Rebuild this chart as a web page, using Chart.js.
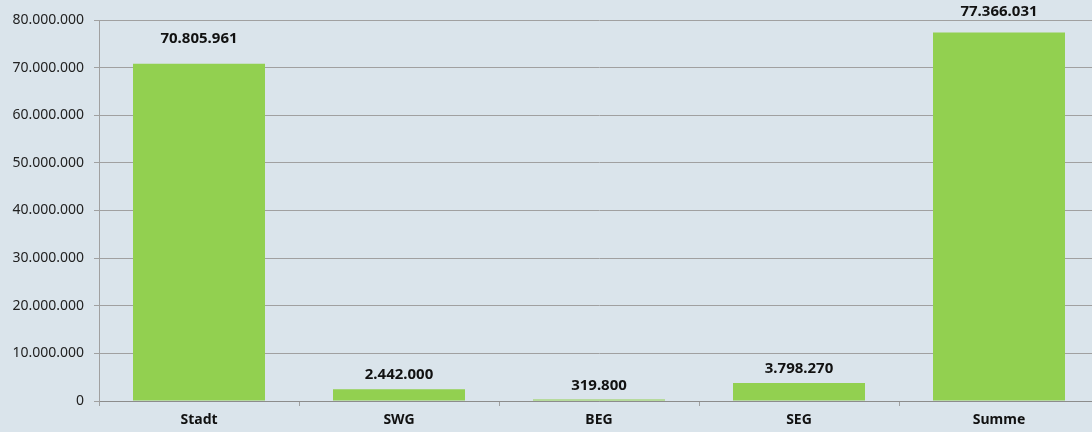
<!DOCTYPE html>
<html>
<head>
<meta charset="utf-8">
<script src="https://cdn.jsdelivr.net/npm/chart.js@4"></script>
<style>
  html, body { margin: 0; padding: 0; background: #dae4eb; overflow: hidden; }
  #wrap { width: 1099px; height: 432px; position: relative; }
</style>
</head>
<body>
<div id="wrap"><canvas id="barChart"></canvas></div>
<script>
var categories = ['Stadt', 'SWG', 'BEG', 'SEG', 'Summe'];
var values = [70805961, 2442000, 319800, 3798270, 77366031];
var yTicks = [0, 10000000, 20000000, 30000000, 40000000, 50000000, 60000000, 70000000, 80000000];

// Zahlen mit Punkt als Tausendertrenner
function fmt(n) {
  return String(Math.round(n)).replace(/\B(?=(\d{3})+(?!\d))/g, '.');
}

var valueLabels = {
  id: 'valueLabels',
  afterDatasetsDraw: function(chart) {
    var ctx = chart.ctx;
    var meta = chart.getDatasetMeta(0);
    var area = chart.chartArea;
    ctx.save();
    ctx.font = 'bold 15px "Noto Sans"';
    ctx.fillStyle = '#111';
    ctx.textAlign = 'center';
    ctx.textBaseline = 'middle';
    meta.data.forEach(function(bar, i) {
      var h = (bar.base - bar.y) / (area.bottom - area.top);
      var y = Math.max(12, bar.y - 14 - 12 * h);
      ctx.fillText(fmt(values[i]), bar.x, y);
    });
    ctx.restore();
  }
};

var myChart = new Chart(document.getElementById('barChart'), {
  type: 'bar',
  data: {
    labels: categories,
    datasets: [{
      label: 'Betrag',
      data: values,
      backgroundColor: '#92d050',
      borderWidth: 0,
      barPercentage: 0.66,
      categoryPercentage: 1
    }]
  },
  options: {
    responsive: true,
    maintainAspectRatio: false,
    animation: false,
    layout: { padding: { top: 20, right: 0, left: 0, bottom: 0 } },
    plugins: {
      legend: { display: false },
      tooltip: { enabled: false }
    },
    scales: {
      x: {
        offset: true,
        grid: {
          offset: true,
          drawOnChartArea: false,
          color: '#a0a0a0',
          tickLength: 5
        },
        border: { color: '#8c8c8c' },
        ticks: {
          color: '#111',
          font: { family: 'Noto Sans', size: 14, weight: 'bold' },
          padding: 6
        },
        afterFit: function(scale) { scale.height = 31; }
      },
      y: {
        min: 0,
        max: 80000000,
        afterBuildTicks: function(scale) {
          scale.ticks = yTicks.map(function(v) { return { value: v }; });
        },
        grid: {
          color: '#a0a0a0',
          tickLength: 5
        },
        border: { color: '#a0a0a0' },
        ticks: {
          color: '#222',
          font: { family: 'Noto Sans', size: 14 },
          padding: 10,
          callback: function(v) { return fmt(v); }
        },
        afterFit: function(scale) { scale.width = 99; }
      }
    }
  },
  plugins: [valueLabels]
});
</script>
</body>
</html>
